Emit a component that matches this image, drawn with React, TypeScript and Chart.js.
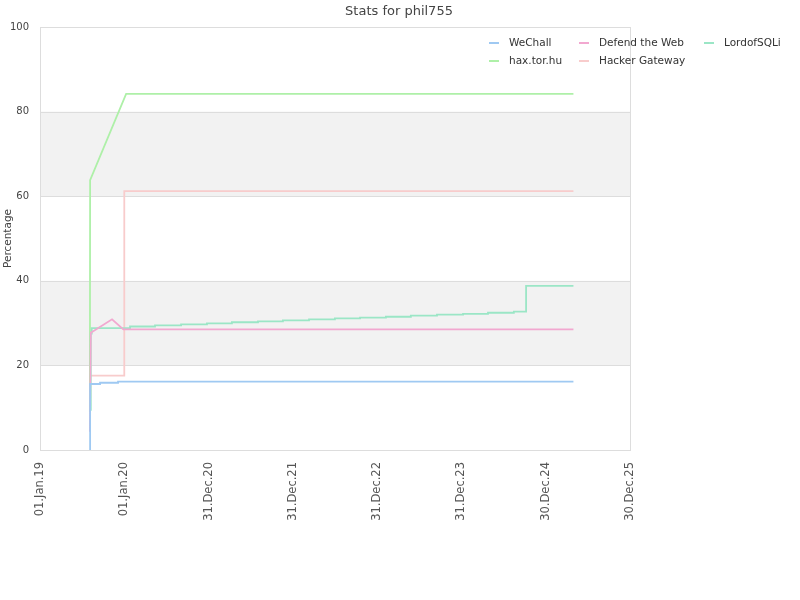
import React, { useEffect, useRef } from "react";
import { Chart, registerables } from "chart.js";

Chart.register(...registerables);

// x values are days since 01.Jan.2019
const tickDays = [0, 365, 730, 1095, 1460, 1825, 2190, 2555];

const wechallDays = [216, 217, 260, 338, 2310];
const wechallValues = [0, 15.6, 15.9, 16.15, 16.15];

const defendDays = [216, 220, 312, 361, 2310];
const defendValues = [4.3, 27.7, 30.9, 28.5, 28.5];

const lordDays = [216, 220, 224, 390, 498, 611, 723, 831, 944, 1052, 1165, 1277, 1386, 1498, 1606, 1719, 1832, 1940, 2052, 2105, 2310];
const lordValues = [9.5, 27.5, 28.8, 29.2, 29.45, 29.7, 29.95, 30.2, 30.4, 30.65, 30.9, 31.1, 31.3, 31.5, 31.75, 32.0, 32.2, 32.45, 32.7, 38.8, 38.8];

const haxDays = [216, 217, 373, 2310];
const haxValues = [9.0, 63.8, 84.2, 84.2];

const hackerDays = [216, 365, 2310];
const hackerValues = [17.6, 61.2, 61.2];

const TITLE = "Stats for phil755";

const MONTHS = ["Jan", "Feb", "Mar", "Apr", "May", "Jun", "Jul", "Aug", "Sep", "Oct", "Nov", "Dec"];
const BASE = Date.UTC(2019, 0, 1);

function fmtDay(d: number): string {
  const dt = new Date(BASE + d * 86400000);
  const dd = String(dt.getUTCDate()).padStart(2, "0");
  const yy = String(dt.getUTCFullYear() % 100).padStart(2, "0");
  return `${dd}.${MONTHS[dt.getUTCMonth()]}.${yy}`;
}

function pts(days: number[], vals: number[]) {
  return days.map((d, i) => ({ x: d, y: vals[i] }));
}

const FONT = "'DejaVu Sans', sans-serif";

const bgPlugin = {
  id: "bands",
  beforeDatasetsDraw(chart: any) {
    const { ctx, chartArea } = chart;
    const y = chart.scales.y;
    ctx.save();
    ctx.fillStyle = "#f2f2f2";
    [[20, 40], [60, 80]].forEach(([a, b]) => {
      const top = y.getPixelForValue(b);
      const bot = y.getPixelForValue(a);
      ctx.fillRect(chartArea.left, top, chartArea.right - chartArea.left, bot - top);
    });
    ctx.strokeStyle = "#dddddd";
    ctx.lineWidth = 1;
    [20, 40, 60, 80].forEach((v) => {
      const py = Math.round(y.getPixelForValue(v)) + 0.5;
      ctx.beginPath();
      ctx.moveTo(chartArea.left, py);
      ctx.lineTo(chartArea.right, py);
      ctx.stroke();
    });
    ctx.strokeRect(
      Math.round(chartArea.left) + 0.5,
      Math.round(chartArea.top) + 0.5,
      Math.round(chartArea.right - chartArea.left),
      Math.round(chartArea.bottom - chartArea.top)
    );
    ctx.restore();
  },
};

const overlayPlugin = {
  id: "overlay",
  afterDraw(chart: any) {
    const { ctx } = chart;
    ctx.save();
    // title
    ctx.font = `13px ${FONT}`;
    ctx.fillStyle = "#444444";
    ctx.textAlign = "center";
    ctx.textBaseline = "middle";
    ctx.fillText(TITLE, 399, 12);
    // legend
    const cols = [489, 579, 704];
    const rows = [43, 61];
    ctx.font = `10.5px ${FONT}`;
    ctx.textAlign = "left";
    chart.data.datasets.forEach((ds: any, i: number) => {
      const cx = cols[i % 3];
      const cy = rows[Math.floor(i / 3)];
      ctx.strokeStyle = ds.borderColor;
      ctx.lineWidth = 2;
      ctx.beginPath();
      ctx.moveTo(cx, cy);
      ctx.lineTo(cx + 10, cy);
      ctx.stroke();
      ctx.fillStyle = "#333333";
      ctx.fillText(ds.label, cx + 20, cy);
    });
    ctx.restore();
  },
};

export default function App() {
  const ref = useRef<HTMLCanvasElement | null>(null);

  useEffect(() => {
    document.body.style.margin = "0";
    if (!ref.current) return;
    const common = { pointRadius: 0, borderWidth: 1.8, fill: false, tension: 0 };
    const chart = new Chart(ref.current, {
      type: "line",
      data: {
        datasets: [
          { label: "WeChall", data: pts(wechallDays, wechallValues), borderColor: "#9fc9f2", stepped: "before", ...common },
          { label: "Defend the Web", data: pts(defendDays, defendValues), borderColor: "#f2a8d0", ...common },
          { label: "LordofSQLi", data: pts(lordDays, lordValues), borderColor: "#9be6c6", stepped: "before", ...common },
          { label: "hax.tor.hu", data: pts(haxDays, haxValues), borderColor: "#aef0a8", ...common },
          { label: "Hacker Gateway", data: pts(hackerDays, hackerValues), borderColor: "#f8cccc", stepped: "before", ...common },
        ] as any,
      },
      options: {
        animation: false,
        responsive: false,
        maintainAspectRatio: false,
        layout: { padding: { left: 0, right: 170, top: 27, bottom: 0 } },
        plugins: {
          legend: { display: false },
          tooltip: { enabled: false },
          title: { display: false },
        },
        scales: {
          x: {
            type: "linear",
            min: tickDays[0],
            max: tickDays[tickDays.length - 1],
            afterBuildTicks: (scale: any) => {
              scale.ticks = tickDays.map((d) => ({ value: d }));
            },
            afterFit: (scale: any) => {
              scale.height = 150;
            },
            grid: { display: false, drawTicks: false },
            border: { display: false },
            ticks: {
              autoSkip: false,
              minRotation: 90,
              maxRotation: 90,
              padding: 12,
              color: "#555555",
              font: { family: FONT, size: 11.5 },
              callback: (v: any) => fmtDay(Number(v)),
            },
          },
          y: {
            min: 0,
            max: 100,
            afterFit: (scale: any) => {
              scale.width = 40;
            },
            grid: { display: false, drawTicks: false },
            border: { display: false },
            ticks: {
              stepSize: 20,
              padding: 11,
              color: "#444444",
              font: { family: FONT, size: 10 },
            },
            title: {
              display: true,
              text: "Percentage",
              color: "#444444",
              font: { family: FONT, size: 10.5 },
              padding: { top: 2, bottom: 0 },
            },
          },
        },
      },
      plugins: [bgPlugin, overlayPlugin],
    });
    return () => chart.destroy();
  }, []);

  return (
    <div style={{ width: 800, height: 600, background: "#fff" }}>
      <canvas ref={ref} width={800} height={600} style={{ display: "block" }} />
    </div>
  );
}
